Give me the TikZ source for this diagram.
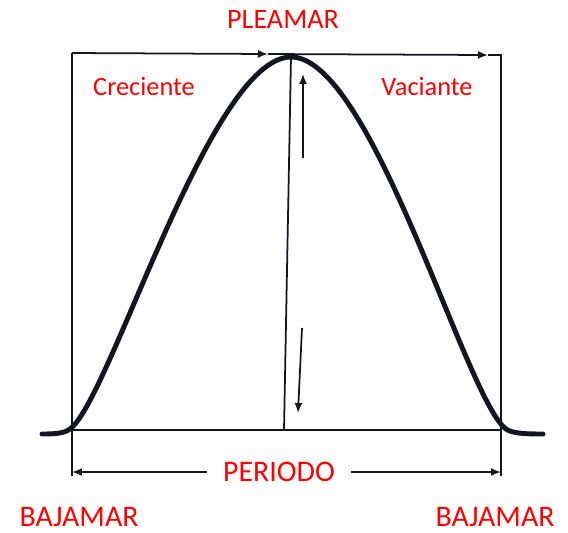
\documentclass[tikz,border=0pt]{standalone}
\usepackage{fontspec}
\setmainfont{Carlito}
\usetikzlibrary{arrows.meta}
\definecolor{tideRed}{HTML}{FF0000}
\definecolor{tideInk}{HTML}{15151E}

\begin{document}
\begin{tikzpicture}[x=0.02cm, y=-0.02cm,
  label/.style={text=tideRed, font=\fontsize{16}{18}\selectfont, inner sep=1pt},
  biglabel/.style={label, font=\fontsize{17}{19}\selectfont},
  phase/.style={text=tideRed, font=\fontsize{15}{17}\selectfont, inner sep=1pt},
  frame/.style={tideInk, line width=1pt},
  arr/.style={frame, -{Latex[length=2mm, width=1.6mm]}},
  wave/.style={tideInk, line width=2.8pt, line cap=round}
]
\useasboundingbox (0,0) rectangle (568,532);

% corners of the frame
\coordinate (tl) at (72,53);
\coordinate (tr) at (501,55);
\coordinate (bl) at (72,476);
\coordinate (br) at (501,476);
\coordinate (base0) at (72,430);
\coordinate (base1) at (501,430);
\coordinate (peak) at (291,57);
\coordinate (foot) at (284,430);
\coordinate (mid1) at (268,54);
\coordinate (mid2) at (488,55);

% labels
\node[label] (pleamar) at (283,19) {PLEAMAR};
\node[phase] (creciente) at (144,87) {Creciente};
\node[phase] (vaciante) at (427,87) {Vaciante};
\node[biglabel] (periodo) at (279,472) {PERIODO};
\node[biglabel] (bajaL) at (79,517) {BAJAMAR};
\node[biglabel] (bajaR) at (495,517) {BAJAMAR};

% frame
\draw[frame] (bl) -- (tl);
\draw[arr] (tl) -- (mid1);
\draw[arr] (mid1) -- (mid2);
\draw[frame] (mid2) -- (tr) -- (br);
\draw[frame] (base0) -- (base1);
\draw[frame] (peak) -- (foot);

% rise and fall
\coordinate (up0) at (303,158);
\coordinate (up1) at (303,74);
\coordinate (dn0) at (302,328);
\coordinate (dn1) at (298,413);
\draw[arr] (up0) -- (up1);
\draw[arr] (dn0) -- (dn1);

% period
\coordinate (per0) at (72,472);
\coordinate (per1) at (501,472);
\draw[arr] (periodo.west) ++(-14,0) -- (per0);
\draw[arr] (periodo.east) ++(14,0) -- (per1);

% tide curve
\coordinate (lowL) at (42,434);
\coordinate (lowR) at (543,434);
\draw[wave] (lowL) .. controls (55,434) and (64,433.4) .. (70,429)
  .. controls (110,400) and (210,57) .. (peak)
  .. controls (372,57) and (466,400) .. (506,429)
  .. controls (512,433.4) and (525,434) .. (lowR);
\end{tikzpicture}
\end{document}
